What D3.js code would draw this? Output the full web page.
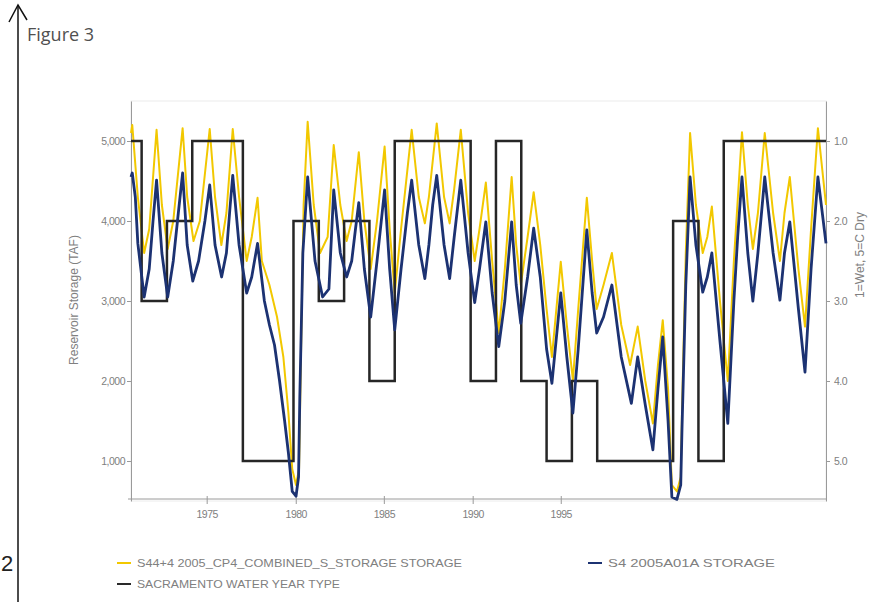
<!DOCTYPE html>
<html>
<head>
<meta charset="utf-8">
<script src="https://cdn.jsdelivr.net/npm/d3@7"></script>
<style>
  body { margin: 0; background: #fff; }
  svg text { font-family: "Liberation Sans Narrow", "Liberation Sans", Arial, sans-serif; fill: #808080; }
  .axis path, .axis line { stroke: #9a9a9a; }
  .axis text { font-size: 10.5px; letter-spacing: -0.5px; }
</style>
</head>
<body>
<div id="chart"></div>
<script>
// water years and Sacramento year type (1=Wet ... 5=Critical)
const wyYears = [1971,1972,1973,1974,1975,1976,1977,1978,1979,1980,1981,1982,1983,1984,
                 1985,1986,1987,1988,1989,1990,1991,1992,1993,1994,1995,1996,1997,1998];
const wyType  = [1,3,2,1,1,5,5,2,3,2,4,1,1,1,4,1,4,5,4,5,5,5,2,5,1,1,1,1];

// S4 2005A01A storage (TAF), [decimal year, value]
const storageS4 = [
  [1971.33,4550],[1971.38,4600],[1971.5,4300],[1971.6,3720],[1971.85,3050],[1972.05,3400],
  [1972.2,4000],[1972.34,4510],[1972.55,3600],[1972.78,3050],[1973.0,3500],[1973.2,4100],
  [1973.37,4600],[1973.55,3700],[1973.77,3250],[1974.0,3500],[1974.25,4000],[1974.44,4450],
  [1974.65,3700],[1974.91,3300],[1975.1,3600],[1975.25,4200],[1975.35,4570],[1975.6,3700],
  [1975.9,3100],[1976.1,3300],[1976.33,3720],[1976.6,3000],[1976.8,2700],[1977.0,2450],
  [1977.2,2000],[1977.4,1500],[1977.55,1100],[1977.7,620],[1977.85,560],[1977.95,800],
  [1978.0,1800],[1978.12,3600],[1978.31,4550],[1978.6,3500],[1978.9,3050],[1979.15,3150],
  [1979.34,4390],[1979.6,3600],[1979.85,3300],[1980.05,3500],[1980.2,3900],[1980.33,4230],
  [1980.55,3400],[1980.8,2800],[1981.05,3500],[1981.35,4390],[1981.55,3400],[1981.75,2640],
  [1982.0,3400],[1982.25,4100],[1982.42,4510],[1982.7,3700],[1982.94,3280],[1983.1,3700],
  [1983.25,4200],[1983.41,4570],[1983.7,3700],[1983.92,3280],[1984.1,3800],[1984.36,4510],
  [1984.65,3600],[1984.91,2980],[1985.1,3400],[1985.35,3990],[1985.6,3100],[1985.86,2430],
  [1986.1,3000],[1986.37,3990],[1986.55,3200],[1986.73,2720],[1987.0,3300],[1987.24,3910],
  [1987.5,3300],[1987.75,2400],[1987.96,1970],[1988.31,3100],[1988.55,2300],[1988.79,1600],
  [1989.0,2400],[1989.34,3890],[1989.55,3100],[1989.73,2600],[1990.0,2800],[1990.33,3200],
  [1990.7,2300],[1991.1,1720],[1991.35,2300],[1991.65,1700],[1991.95,1140],[1992.15,1900],
  [1992.34,2550],[1992.55,1500],[1992.7,550],[1992.9,520],[1993.05,700],[1993.1,1400],
  [1993.25,3200],[1993.42,4550],[1993.65,3700],[1993.92,3110],[1994.1,3300],[1994.28,3600],
  [1994.6,2500],[1994.91,1470],[1995.15,3000],[1995.3,3800],[1995.47,4550],[1995.7,3600],
  [1995.9,3000],[1996.1,3600],[1996.37,4550],[1996.7,3600],[1996.97,3010],[1997.15,3600],
  [1997.36,3990],[1997.7,2900],[1997.96,2110],[1998.2,3400],[1998.47,4550],[1998.79,3720]
];

// S44+4 2005_CP4 combined storage (TAF)
const storageS44 = [
  [1971.33,5100],[1971.38,5200],[1971.6,4300],[1971.85,3600],[1972.05,3900],[1972.34,5140],
  [1972.55,4200],[1972.78,3650],[1973.0,4000],[1973.37,5160],[1973.55,4300],[1973.8,3750],
  [1974.05,4000],[1974.44,5150],[1974.65,4300],[1974.9,3700],[1975.1,4100],[1975.35,5150],
  [1975.6,4300],[1975.9,3500],[1976.1,3800],[1976.33,4290],[1976.5,3500],[1976.8,3200],
  [1977.1,2800],[1977.35,2300],[1977.55,1600],[1977.7,900],[1977.85,700],[1977.97,900],
  [1978.05,2400],[1978.15,4200],[1978.31,5240],[1978.55,4200],[1978.8,3600],[1979.1,3800],
  [1979.34,4950],[1979.6,4200],[1979.85,3750],[1980.05,4000],[1980.33,4860],[1980.55,4000],
  [1980.8,3400],[1981.05,4000],[1981.35,4930],[1981.55,3900],[1981.75,3100],[1982.0,3900],
  [1982.42,5140],[1982.7,4300],[1982.94,3970],[1983.1,4300],[1983.41,5220],[1983.7,4300],
  [1983.92,3970],[1984.1,4400],[1984.36,5140],[1984.65,4100],[1984.91,3500],[1985.1,3900],
  [1985.35,4480],[1985.6,3500],[1985.86,2600],[1986.1,3400],[1986.37,4550],[1986.55,3700],
  [1986.73,3200],[1987.0,3800],[1987.24,4360],[1987.5,3700],[1987.75,2900],[1987.96,2300],
  [1988.31,3490],[1988.55,2700],[1988.79,2010],[1989.0,2900],[1989.34,4290],[1989.55,3500],
  [1989.73,2900],[1990.0,3200],[1990.33,3600],[1990.7,2700],[1991.05,2200],[1991.35,2680],
  [1991.65,2000],[1991.95,1470],[1992.15,2200],[1992.34,2760],[1992.55,1900],[1992.7,700],
  [1992.9,620],[1993.05,800],[1993.1,1600],[1993.25,3600],[1993.42,5100],[1993.65,4200],
  [1993.92,3600],[1994.1,3800],[1994.28,4180],[1994.6,3000],[1994.91,2000],[1995.15,3500],
  [1995.47,5110],[1995.7,4200],[1995.9,3650],[1996.1,4100],[1996.37,5100],[1996.7,4100],
  [1996.97,3500],[1997.15,4100],[1997.36,4550],[1997.7,3400],[1997.96,2680],[1998.2,3900],
  [1998.47,5160],[1998.79,4200]
];

const leftTicks  = [1000, 2000, 3000, 4000, 5000];
const rightTicks = [1, 2, 3, 4, 5];
// x tick positions as printed on the figure, with their labels
const xTickValues = [1974.32, 1977.84, 1981.32, 1984.83, 1988.31];
const xTickLabels = ["1975", "1980", "1985", "1990", "1995"];

const legendItems = [
  {label: "S44+4 2005_CP4_COMBINED_S_STORAGE STORAGE", color: "#f2c800", x: 117, y: 563, w: 325},
  {label: "S4 2005A01A STORAGE", color: "#1c3272", x: 588, y: 563, w: 167},
  {label: "SACRAMENTO  WATER YEAR TYPE", color: "#2a2a2a", x: 117, y: 584, w: 203}
];

const width = 883, height = 602;
const plot = {left: 131, right: 826, top: 101, bottom: 501};

const svg = d3.select('#chart').append('svg')
  .attr('width', width)
  .attr('height', height);

// page decorations: arrow line, figure label, page number
svg.append('line')
  .attr('x1', 18).attr('x2', 18).attr('y1', 5).attr('y2', height)
  .attr('stroke', '#111').attr('stroke-width', 1.5);
svg.append('polyline')
  .attr('points', '9,22 18,5 27,20')
  .attr('fill', 'none').attr('stroke', '#111').attr('stroke-width', 1.5);
svg.append('text')
  .attr('x', 27).attr('y', 41)
  .style('font-family', '"Open Sans", "Noto Sans", sans-serif')
  .style('font-size', '18px').style('fill', '#505050')
  .text('Figure 3');
svg.append('text')
  .attr('x', 1).attr('y', 571)
  .style('font-family', '"Liberation Sans", Arial, sans-serif')
  .style('font-size', '22px').style('fill', '#222')
  .text('2');

// Scales
const x = d3.scaleLinear().domain([1971.33, 1998.79]).range([plot.left, plot.right]);
const yL = d3.scaleLinear().domain([500, 5500]).range([plot.bottom, plot.top]);
const yR = d3.scaleLinear().domain([5.5, 0.5]).range([plot.bottom, plot.top]);

// frame
svg.append('rect')
  .attr('x', plot.left).attr('y', plot.top)
  .attr('width', plot.right - plot.left).attr('height', plot.bottom - plot.top)
  .attr('fill', 'none').attr('stroke', '#ececec');

// Axis
const xAxis = d3.axisBottom(x)
  .tickValues(xTickValues)
  .tickFormat((d, i) => xTickLabels[i])
  .tickSizeInner(5).tickSizeOuter(0).tickPadding(7);
svg.append('g').attr('class', 'x axis')
  .attr('transform', 'translate(0,' + (plot.bottom - 2) + ')')
  .call(xAxis)
  .call(g => g.select('.domain').attr('d', 'M' + (plot.left - 3) + ',0H' + plot.right))
  .call(g => g.selectAll('.tick line').attr('y1', -3));

const yAxisL = d3.axisLeft(yL)
  .tickValues(leftTicks)
  .tickFormat(d3.format(','))
  .tickSizeInner(4).tickSizeOuter(0).tickPadding(2);
svg.append('g').attr('class', 'y axis')
  .attr('transform', 'translate(' + plot.left + ',0)')
  .call(yAxisL);

const yAxisR = d3.axisRight(yR)
  .tickValues(rightTicks)
  .tickFormat(d3.format('.1f'))
  .tickSizeInner(4).tickSizeOuter(0).tickPadding(4);
svg.append('g').attr('class', 'y2 axis')
  .attr('transform', 'translate(' + plot.right + ',0)')
  .call(yAxisR);

// axis titles
svg.append('text')
  .attr('transform', 'translate(78,300) rotate(-90)')
  .attr('text-anchor', 'middle')
  .style('font-size', '12px')
  .text('Reservoir Storage (TAF)');
svg.append('text')
  .attr('transform', 'translate(864,255) rotate(-90)')
  .attr('text-anchor', 'middle')
  .style('font-size', '12px')
  .text('1=Wet, 5=C Dry');

// year type steps
const steps = wyYears.map((yr, i) => [Math.max(x.domain()[0], yr - 0.25), wyType[i]]);
steps.push([x.domain()[1], wyType[wyType.length - 1]]);

const lineL = d3.line().x(d => x(d[0])).y(d => yL(d[1]));
const stepLine = d3.line().curve(d3.curveStepAfter).x(d => x(d[0])).y(d => yR(d[1]));

svg.append('path')
  .datum(storageS44)
  .attr('fill', 'none').attr('stroke', '#f2c800').attr('stroke-width', 2)
  .attr('stroke-linejoin', 'round')
  .attr('d', lineL);

svg.append('path')
  .datum(steps)
  .attr('fill', 'none').attr('stroke', '#262626').attr('stroke-width', 2.5)
  .attr('d', stepLine);

svg.append('path')
  .datum(storageS4)
  .attr('fill', 'none').attr('stroke', '#1c3272').attr('stroke-width', 2.8)
  .attr('stroke-linejoin', 'round')
  .attr('d', lineL);

// legend
const legend = svg.selectAll('.legend')
  .data(legendItems)
  .enter().append('g')
  .attr('class', 'legend')
  .attr('transform', d => 'translate(' + d.x + ',' + d.y + ')');
legend.append('line')
  .attr('x1', 0).attr('x2', 14)
  .attr('stroke', d => d.color).attr('stroke-width', 2);
legend.append('text')
  .attr('x', 20).attr('y', 4)
  .attr('textLength', d => d.w)
  .attr('lengthAdjust', 'spacingAndGlyphs')
  .style('font-size', '11px')
  .text(d => d.label);
</script>
</body>
</html>
